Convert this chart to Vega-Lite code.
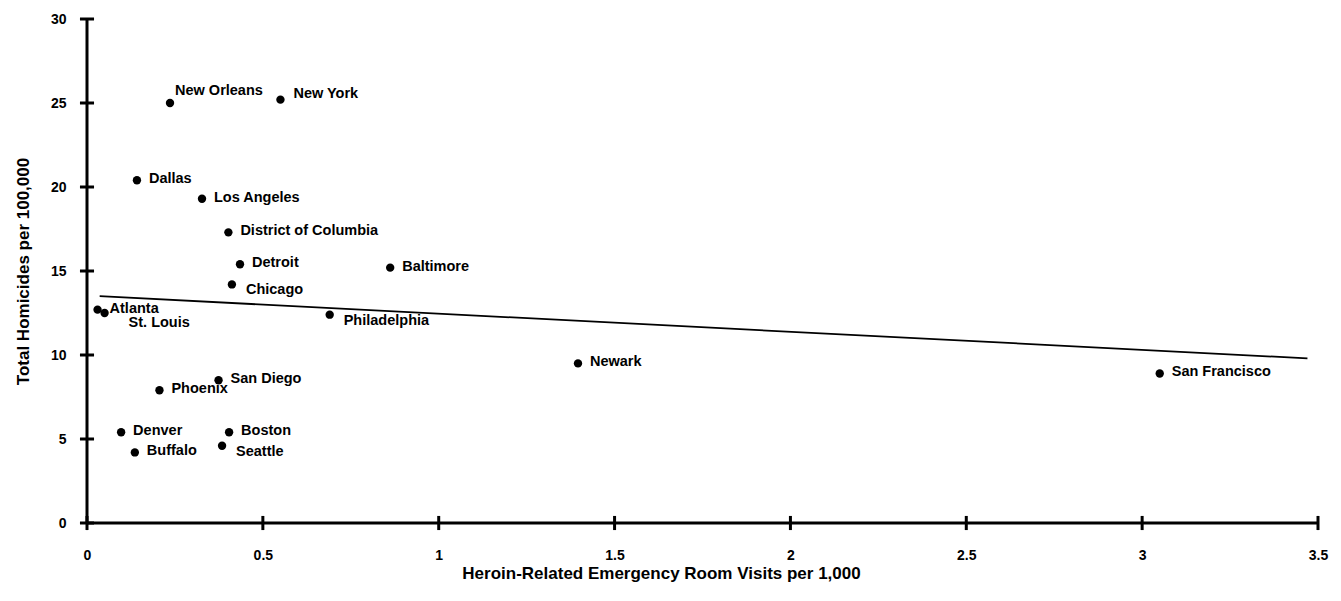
{
  "$schema": "https://vega.github.io/schema/vega-lite/v6.json",
  "width": 1231,
  "height": 504,
  "autosize": "none",
  "padding": {"left": 87, "top": 19, "right": 23, "bottom": 78},
  "background": "white",
  "config": {
    "view": {"stroke": null},
    "font": "Liberation Sans"
  },
  "datasets": {
    "cities": [
      {"city": "New Orleans", "heroin": 0.236, "homicides": 25.0},
      {"city": "New York", "heroin": 0.55, "homicides": 25.2},
      {"city": "Dallas", "heroin": 0.142, "homicides": 20.4},
      {"city": "Los Angeles", "heroin": 0.327, "homicides": 19.3},
      {"city": "District of Columbia", "heroin": 0.402, "homicides": 17.3},
      {"city": "Detroit", "heroin": 0.435, "homicides": 15.4},
      {"city": "Chicago", "heroin": 0.412, "homicides": 14.2},
      {"city": "Baltimore", "heroin": 0.862, "homicides": 15.2},
      {"city": "Atlanta", "heroin": 0.03, "homicides": 12.7},
      {"city": "St. Louis", "heroin": 0.05, "homicides": 12.5},
      {"city": "Philadelphia", "heroin": 0.69, "homicides": 12.4},
      {"city": "San Diego", "heroin": 0.374, "homicides": 8.5},
      {"city": "Phoenix", "heroin": 0.206, "homicides": 7.9},
      {"city": "Denver", "heroin": 0.097, "homicides": 5.4},
      {"city": "Buffalo", "heroin": 0.136, "homicides": 4.2},
      {"city": "Boston", "heroin": 0.404, "homicides": 5.4},
      {"city": "Seattle", "heroin": 0.384, "homicides": 4.6},
      {"city": "Newark", "heroin": 1.396, "homicides": 9.5},
      {"city": "San Francisco", "heroin": 3.05, "homicides": 8.9}
    ],
    "trend": [
      {"heroin": 0.036, "homicides": 13.5},
      {"heroin": 3.47, "homicides": 9.8}
    ],
    "xaxis": [
      {"start": 0, "end": 3.5, "level": 0}
    ],
    "yaxis": [
      {"start": 0, "end": 30, "level": 0}
    ],
    "xticks": [
      {"heroin": 0}, {"heroin": 0.5}, {"heroin": 1}, {"heroin": 1.5},
      {"heroin": 2}, {"heroin": 2.5}, {"heroin": 3}, {"heroin": 3.5}
    ],
    "yticks": [
      {"homicides": 0}, {"homicides": 5}, {"homicides": 10}, {"homicides": 15},
      {"homicides": 20}, {"homicides": 25}, {"homicides": 30}
    ]
  },
  "layer": [
    {
      "data": {"name": "trend"},
      "mark": {"type": "line", "color": "black", "strokeWidth": 1.8},
      "encoding": {
        "x": {
          "field": "heroin", "type": "quantitative",
          "scale": {"domain": [0, 3.5], "nice": false, "zero": false},
          "axis": {
            "values": [0, 0.5, 1, 1.5, 2, 2.5, 3, 3.5],
            "format": "~g",
            "title": "Heroin-Related Emergency Room Visits per 1,000",
            "grid": false,
            "domain": false,
            "ticks": false,
            "labelFont": "Liberation Sans",
            "labelFontWeight": "bold",
            "labelFontSize": 14,
            "labelColor": "black",
            "labelPadding": 25,
            "labelFlush": false,
            "titleFont": "Liberation Sans",
            "titleFontWeight": "bold",
            "titleFontSize": 17,
            "titleColor": "black",
            "titlePadding": 3,
            "titleX": 574
          }
        },
        "y": {
          "field": "homicides", "type": "quantitative",
          "scale": {"domain": [0, 30], "nice": false},
          "axis": {
            "values": [0, 5, 10, 15, 20, 25, 30],
            "title": "Total Homicides per 100,000",
            "grid": false,
            "domain": false,
            "ticks": false,
            "labelFont": "Liberation Sans",
            "labelFontWeight": "bold",
            "labelFontSize": 14,
            "labelColor": "black",
            "labelPadding": 21,
            "titleFont": "Liberation Sans",
            "titleFontWeight": "bold",
            "titleFontSize": 17,
            "titleColor": "black",
            "titlePadding": 18
          }
        }
      }
    },
    {
      "data": {"name": "xaxis"},
      "mark": {"type": "rule", "color": "black", "strokeWidth": 3},
      "encoding": {
        "x": {"field": "start", "type": "quantitative"},
        "x2": {"field": "end"},
        "y": {"field": "level", "type": "quantitative"}
      }
    },
    {
      "data": {"name": "yaxis"},
      "mark": {"type": "rule", "color": "black", "strokeWidth": 3},
      "encoding": {
        "x": {"field": "level", "type": "quantitative"},
        "y": {"field": "start", "type": "quantitative"},
        "y2": {"field": "end"}
      }
    },
    {
      "data": {"name": "xticks"},
      "mark": {"type": "rule", "color": "black", "strokeWidth": 3},
      "encoding": {
        "x": {"field": "heroin", "type": "quantitative"},
        "y": {"datum": -0.42, "type": "quantitative"},
        "y2": {"datum": 0.42}
      }
    },
    {
      "data": {"name": "yticks"},
      "mark": {"type": "rule", "color": "black", "strokeWidth": 3},
      "encoding": {
        "y": {"field": "homicides", "type": "quantitative"},
        "x": {"datum": -0.02, "type": "quantitative"},
        "x2": {"datum": 0.02}
      }
    },
    {
      "data": {"name": "cities"},
      "mark": {"type": "circle", "color": "black", "opacity": 1, "size": 70},
      "encoding": {
        "x": {"field": "heroin", "type": "quantitative"},
        "y": {"field": "homicides", "type": "quantitative"}
      }
    },
    {
      "data": {"name": "cities"},
      "transform": [{"filter": {"field": "city", "oneOf": ["Dallas", "Los Angeles", "District of Columbia", "Detroit", "Baltimore", "Atlanta", "San Diego", "Phoenix", "Denver", "Buffalo", "Boston", "Newark", "San Francisco"]}}],
      "mark": {"type": "text", "align": "left", "baseline": "middle", "dx": 12, "dy": -1, "fontSize": 14.5, "fontWeight": "bold", "font": "Liberation Sans", "color": "black"},
      "encoding": {
        "x": {"field": "heroin", "type": "quantitative"},
        "y": {"field": "homicides", "type": "quantitative"},
        "text": {"field": "city"}
      }
    },
    {
      "data": {"name": "cities"},
      "transform": [{"filter": {"field": "city", "equal": "New Orleans"}}],
      "mark": {"type": "text", "align": "left", "baseline": "middle", "dx": 5, "dy": -12, "fontSize": 14.5, "fontWeight": "bold", "font": "Liberation Sans", "color": "black"},
      "encoding": {
        "x": {"field": "heroin", "type": "quantitative"},
        "y": {"field": "homicides", "type": "quantitative"},
        "text": {"field": "city"}
      }
    },
    {
      "data": {"name": "cities"},
      "transform": [{"filter": {"field": "city", "equal": "New York"}}],
      "mark": {"type": "text", "align": "left", "baseline": "middle", "dx": 13, "dy": -6, "fontSize": 14.5, "fontWeight": "bold", "font": "Liberation Sans", "color": "black"},
      "encoding": {
        "x": {"field": "heroin", "type": "quantitative"},
        "y": {"field": "homicides", "type": "quantitative"},
        "text": {"field": "city"}
      }
    },
    {
      "data": {"name": "cities"},
      "transform": [{"filter": {"field": "city", "oneOf": ["Philadelphia", "Chicago", "Seattle"]}}],
      "mark": {"type": "text", "align": "left", "baseline": "middle", "dx": 14, "dy": 6, "fontSize": 14.5, "fontWeight": "bold", "font": "Liberation Sans", "color": "black"},
      "encoding": {
        "x": {"field": "heroin", "type": "quantitative"},
        "y": {"field": "homicides", "type": "quantitative"},
        "text": {"field": "city"}
      }
    },
    {
      "data": {"name": "cities"},
      "transform": [{"filter": {"field": "city", "equal": "St. Louis"}}],
      "mark": {"type": "text", "align": "left", "baseline": "middle", "dx": 24, "dy": 10, "fontSize": 14.5, "fontWeight": "bold", "font": "Liberation Sans", "color": "black"},
      "encoding": {
        "x": {"field": "heroin", "type": "quantitative"},
        "y": {"field": "homicides", "type": "quantitative"},
        "text": {"field": "city"}
      }
    }
  ]
}
